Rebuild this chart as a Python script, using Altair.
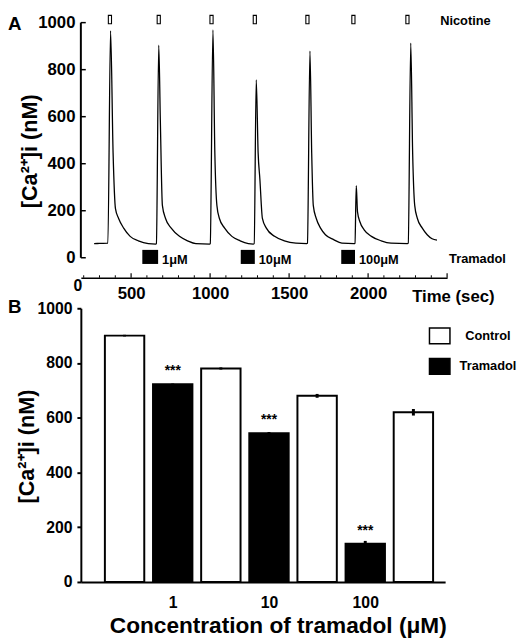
import altair as alt
import pandas as pd

FONT = "Liberation Sans"

# ---------------- Panel A data ----------------
trace_t = [266, 300, 353, 370, 386, 401, 421, 453, 494, 546, 609, 656,
           660, 675, 685, 698, 718, 754, 806, 858, 910, 997,
           1001, 1018, 1030, 1043, 1059, 1092, 1138, 1190, 1242, 1273,
           1279, 1292, 1304, 1315, 1331, 1356, 1408, 1470, 1543, 1612,
           1616, 1632, 1643, 1653, 1672, 1699, 1730, 1782, 1834, 1911,
           1917, 1925, 1933, 1948, 1975, 2021, 2083, 2145, 2249,
           2254, 2270, 2282, 2295, 2312, 2343, 2374, 2405, 2436]
trace_v = [60, 61, 62, 965, 446, 209, 167, 126, 91, 72, 60, 58,
           60, 904, 586, 223, 167, 126, 91, 72, 60, 58,
           60, 969, 446, 223, 167, 126, 91, 72, 60, 58,
           60, 756, 446, 335, 167, 126, 91, 72, 62, 60,
           62, 879, 446, 223, 167, 126, 98, 77, 62, 60,
           62, 307, 195, 153, 119, 91, 72, 62, 60,
           62, 913, 446, 223, 167, 126, 98, 81, 75]

nic_on = [356, 665, 999, 1273, 1606, 1897, 2239]
nic_off = [376, 685, 1019, 1293, 1626, 1917, 2259]
tram_on = [571, 1194, 1830]
tram_off = [671, 1283, 1917]
tram_labels = ["1\u03bcM", "10\u03bcM", "100\u03bcM"]

ca_ticks = [0, 200, 400, 600, 800, 1000]
time_labels = [500, 1000, 1500, 2000]
time_major = [500, 1000, 1500, 2000, 2500]
time_minor = [200, 300, 400, 600, 700, 800, 900, 1100, 1200, 1300, 1400,
              1600, 1700, 1800, 1900, 2100, 2200, 2300, 2400]

# ---------------- Panel B data ----------------
groups = ["Control", "Tramadol", "Control", "Tramadol", "Control", "Tramadol", "Control"]
means = [900, 722, 780, 543, 680, 140, 620]
errs = [3, 3, 4, 5, 7, 10, 12]
conc_labels = ["1", "10", "100"]

YTITLE = "[Ca\u00b2\u207a]i (nM)"

# ================= Panel A =================
dfA = pd.DataFrame({"t": trace_t, "v": trace_v})
sxA = alt.Scale(domain=[182, 2500], nice=False, zero=False)
syA = alt.Scale(domain=[-85, 1033], nice=False, zero=False)

axA_x = alt.Axis(
    values=time_labels, format="d", ticks=False, domain=True, domainWidth=1.5,
    labelFontSize=17, labelBaseline="alphabetic", labelPadding=21,
    labelFlush=False, labelOverlap=False,
    title="Time (sec)", titleX=336, titleY=24, titleAlign="left",
    titleAnchor="start", titleBaseline="alphabetic", titleFontSize=17)
axA_y = alt.Axis(
    values=ca_ticks, format="d", ticks=False, domain=False, labelPadding=6,
    labelFontSize=17, title=YTITLE, titleX=-52, titleY=138,
    titleAlign="center", titleBaseline="middle", titleFontSize=22)


def XA(f):
    return alt.X(f, scale=sxA, axis=axA_x)


def YA(f):
    return alt.Y(f, scale=syA, axis=axA_y)


line = alt.Chart(dfA).mark_line(color="black", strokeWidth=1.3,
                                interpolate="monotone").encode(x=XA("t:Q"), y=YA("v:Q"))

dfAx = pd.DataFrame({"a": [min(ca_ticks)], "b": [max(ca_ticks)]})
yline = alt.Chart(dfAx).mark_rule(color="black", strokeWidth=2).encode(
    x=alt.value(0), y=YA("a:Q"), y2="b:Q")
yticks = alt.Chart(pd.DataFrame({"v": ca_ticks})).mark_rule(
    color="black", strokeWidth=1.5).encode(
    y=YA("v:Q"), x=alt.value(0), x2=alt.value(5))

tmaj = alt.Chart(pd.DataFrame({"t": time_major})).mark_rule(
    color="black", strokeWidth=1.2).encode(
    x=XA("t:Q"), y=alt.value(267), y2=alt.value(262.5))
tmin = alt.Chart(pd.DataFrame({"t": time_minor})).mark_rule(
    color="black", strokeWidth=1).encode(
    x=XA("t:Q"), y=alt.value(267), y2=alt.value(264.5))

nic = alt.Chart(pd.DataFrame({"on": nic_on, "off": nic_off})).mark_rect(
    fill="white", stroke="black", strokeWidth=1.1).encode(
    x=XA("on:Q"), x2="off:Q", y=alt.value(0.5), y2=alt.value(9))
tram = alt.Chart(pd.DataFrame({"on": tram_on, "off": tram_off, "label": tram_labels}))
tram_rect = tram.mark_rect(fill="black").encode(
    x=XA("on:Q"), x2="off:Q", y=alt.value(238.7), y2=alt.value(253))
tram_text = tram.mark_text(align="left", baseline="alphabetic", dx=4,
                           fontSize=13, fontWeight="bold", font=FONT,
                           color="black").encode(
    x=XA("off:Q"), y=alt.value(253), text="label:N")


def label(txt, x, y, size, align="left", baseline="alphabetic"):
    return alt.Chart(pd.DataFrame({"s": [txt]})).mark_text(
        align=align, baseline=baseline, fontSize=size, fontWeight="bold",
        font=FONT, color="black").encode(
        x=alt.value(x), y=alt.value(y), text="s:N")


nic_lab = label("Nicotine", 365, 0, 13, baseline="top")
tram_lab = label("Tramadol", 374, 252, 13)
zero_lab = label("0", -3, 280.7, 16, align="center")
a_lab = label("A", -74, 0, 19, baseline="top")

chartA = alt.layer(line, yline, yticks, tmaj, tmin, nic, tram_rect, tram_text,
                   nic_lab, tram_lab, zero_lab, a_lab).properties(width=372, height=267)

# ================= Panel B =================
dfB = pd.DataFrame({"pos": list(range(len(means))), "group": groups,
                    "mean": means, "err": errs})
dfB["lo"] = dfB["mean"] - dfB["err"]
dfB["hi"] = dfB["mean"] + dfB["err"]
tram_pos = [i for i, g in enumerate(groups) if g == "Tramadol"]
label_expr = " : ".join(
    f"datum.value == {p} ? '{l}'" for p, l in zip(tram_pos, conc_labels)) + " : ''"

sxB = alt.Scale(domain=[-0.806, 6.557], nice=False, zero=False)
syB = alt.Scale(domain=[0, 1000], nice=False)

axB_x = alt.Axis(
    values=tram_pos, labelExpr=label_expr, ticks=False, domainWidth=2,
    labelFontSize=16, labelPadding=13, labelFlush=False,
    title="Concentration of tramadol (\u03bcM)", titleX=200, titleY=51,
    titleBaseline="alphabetic", titleAlign="center", titleFontSize=23)
axB_y = alt.Axis(
    values=ca_ticks, format="d", tickSize=4, tickWidth=2, domainWidth=2,
    labelPadding=5, labelFontSize=16, title=YTITLE, titleX=-55, titleY=140,
    titleAlign="center", titleBaseline="middle", titleFontSize=22)


def XB(f):
    return alt.X(f, scale=sxB, axis=axB_x)


def YB(f):
    return alt.Y(f, scale=syB, axis=axB_y)


baseB = alt.Chart(dfB)
bars = baseB.mark_bar(size=40, stroke="black", strokeWidth=2).encode(
    x=XB("pos:Q"), y=YB("mean:Q"),
    fill=alt.Fill("group:N",
                  scale=alt.Scale(domain=["Control", "Tramadol"], range=["white", "black"]),
                  legend=alt.Legend(orient="none", legendX=355.5, legendY=317,
                                    title=None,
                                    symbolType="M-1.3,-1H1.3V1H-1.3Z",
                                    symbolSize=256, symbolStrokeColor="black",
                                    symbolStrokeWidth=1.5, labelFontSize=13,
                                    labelFont=FONT, labelFontWeight="bold",
                                    labelColor="black", labelOffset=40,
                                    labelAlign="center", rowPadding=9,
                                    padding=0)))
ebars = baseB.mark_rule(color="black", strokeWidth=3).encode(
    x=XB("pos:Q"), y=YB("lo:Q"), y2="hi:Q")
stars = baseB.transform_filter(alt.datum.group == "Tramadol").mark_text(
    text="***", baseline="alphabetic", dy=-9, fontSize=14, fontWeight="bold",
    font=FONT, color="black").encode(x=XB("pos:Q"), y=YB("mean:Q"))
b_lab = label("B", -74, -10, 19, baseline="top")

chartB = alt.layer(bars, ebars, stars, b_lab).properties(width=370, height=278)

chart = alt.vconcat(chartA, chartB, spacing=31, bounds="flush").properties(
    padding=0
).configure(font=FONT).configure_view(stroke=None).configure_axis(
    grid=False, labelFont=FONT, titleFont=FONT, labelFontWeight="bold",
    titleFontWeight="bold", labelColor="black", titleColor="black",
    domainColor="black", tickColor="black")

chart.save("out.html", embed_options={"renderer": "svg", "actions": False})
